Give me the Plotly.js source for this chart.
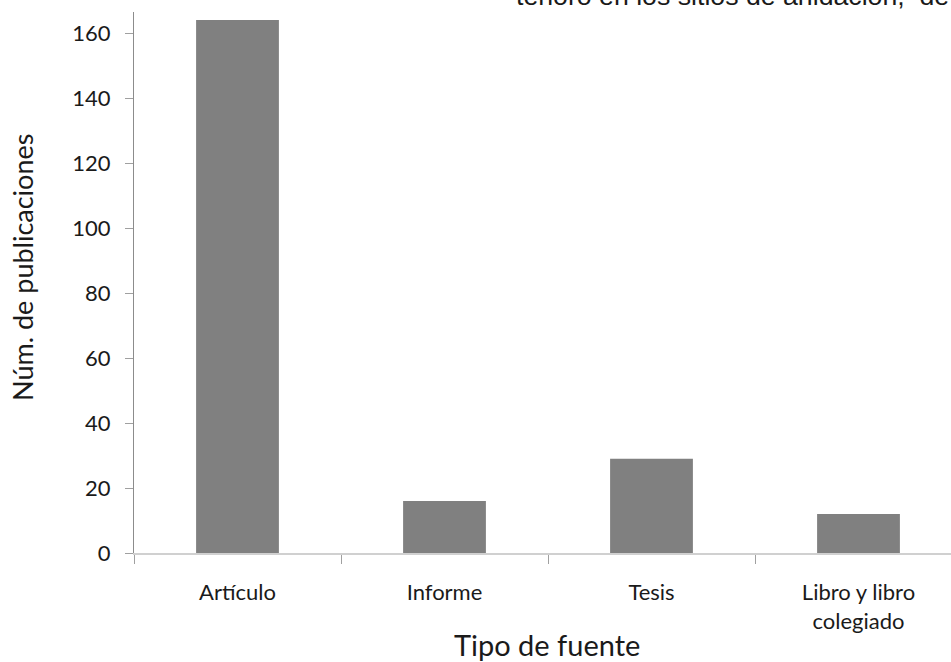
<!DOCTYPE html>
<html>
<head>
<meta charset="utf-8">
<script src="https://cdn.plot.ly/plotly-3.0.1.min.js"></script>
<style>
  html, body { margin: 0; padding: 0; background: #ffffff; overflow: hidden; }
  #chart { width: 962px; height: 662px; }
</style>
</head>
<body>
<div id="chart"></div>
<script>
// Publications by source type
const categories = ["Artículo", "Informe", "Tesis", "Libro y libro<br>colegiado"];
const publications = [164, 16, 29, 12];
const yTicks = [0, 20, 40, 60, 80, 100, 120, 140, 160];

const tickFont = { family: "Lato, 'Open Sans', sans-serif", size: 22, color: "#1a1a1a" };
const titleFont = { family: "Lato, 'Open Sans', sans-serif", size: 27, color: "#1a1a1a" };

const trace = {
  type: "bar",
  x: categories,
  y: publications,
  width: 0.4,
  marker: { color: "#808080", line: { width: 0 } },
  hoverinfo: "x+y"
};

const layout = {
  width: 962,
  height: 662,
  margin: { l: 134, r: 0, t: 12, b: 109 },
  paper_bgcolor: "#ffffff",
  plot_bgcolor: "#ffffff",
  showlegend: false,
  bargap: 0.6,
  xaxis: {
    type: "category",
    showgrid: false,
    zeroline: false,
    showline: true,
    linecolor: "#d0d0d0",
    linewidth: 2,
    ticks: "outside",
    tickson: "boundaries",
    ticklen: 9,
    tickcolor: "#a0a0a0",
    tickwidth: 1,
    tickfont: tickFont,
    ticklabelstandoff: 19,
    fixedrange: true
  },
  yaxis: {
    range: [0, 166.46],
    tickvals: yTicks,
    ticktext: yTicks.map(String),
    showgrid: false,
    zeroline: false,
    showline: true,
    linecolor: "#8c8c8c",
    linewidth: 1,
    ticks: "outside",
    ticklen: 8,
    tickcolor: "#a0a0a0",
    tickwidth: 1,
    tickfont: tickFont,
    ticklabelstandoff: 10,
    fixedrange: true
  },
  annotations: [
    {
      text: "Núm. de publicaciones",
      xref: "paper", yref: "paper",
      x: -0.134, y: 0.527,
      xanchor: "center", yanchor: "middle",
      textangle: -90,
      showarrow: false,
      font: titleFont
    },
    {
      text: "Tipo de fuente",
      xref: "paper", yref: "paper",
      x: 0.4988, y: -0.169,
      xanchor: "center", yanchor: "middle",
      showarrow: false,
      font: Object.assign({}, titleFont, { size: 29 })
    },
    {
      text: "tenoro en los sitios de anidación,  de",
      xref: "paper", yref: "paper",
      x: 0.459, y: 1.0296,
      xanchor: "left", yanchor: "middle",
      showarrow: false,
      font: { family: "'Liberation Sans', Arial, sans-serif", size: 26.7, color: "#1a1a1a" }
    }
  ]
};

Plotly.newPlot("chart", [trace], layout, { displayModeBar: false, staticPlot: true });
</script>
</body>
</html>
